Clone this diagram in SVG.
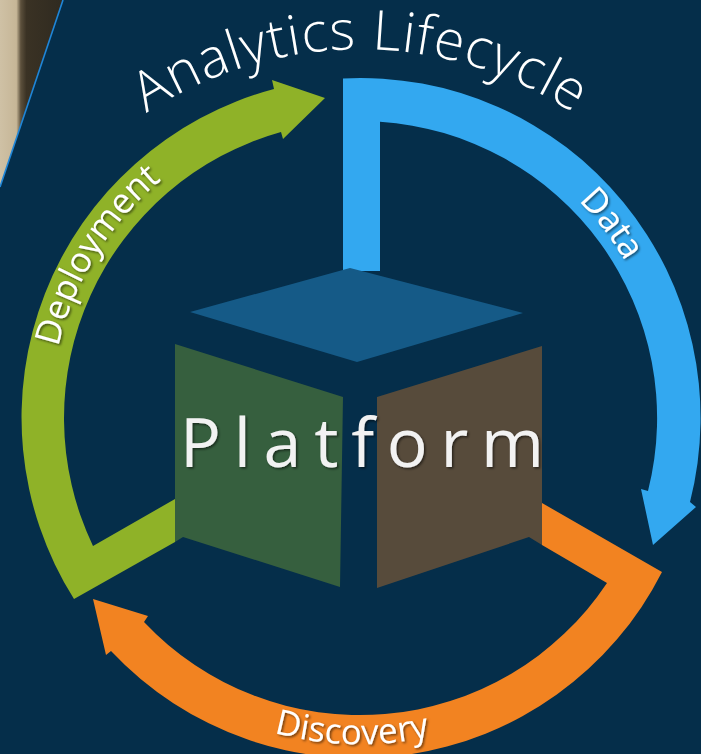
<svg xmlns="http://www.w3.org/2000/svg" width="701" height="754" viewBox="0 0 701 754">
  <defs>
    <style>
      .lbl { font-family: "Open Sans", "Liberation Sans", sans-serif; fill: #ffffff; }
      .stage { font-size: 35px; }
      .title { font-size: 55px; font-weight: 300; }
      .plat { font-size: 68px; fill: #f2f2f2; }
    </style>
    <linearGradient id="photo" x1="0" y1="0" x2="63" y2="0" gradientUnits="userSpaceOnUse">
      <stop offset="0" stop-color="#cfc1a5"/>
      <stop offset="0.26" stop-color="#c6b697"/>
      <stop offset="0.33" stop-color="#5c503c"/>
      <stop offset="0.42" stop-color="#3a3224"/>
      <stop offset="1" stop-color="#2f2a20"/>
    </linearGradient>
    <filter id="shadow" x="-10%" y="-30%" width="130%" height="170%">
      <feDropShadow dx="1.5" dy="1.5" stdDeviation="1.2" flood-color="#000000" flood-opacity="0.55"/>
    </filter>
    <path id="p-title" d="M 23,245 A 388,388 0 0 1 697,245" fill="none"/>
    <path id="p-deploy" d="M 54.7,471.8 A 310,310 0 0 1 271.4,120.9" fill="none"/>
    <path id="p-data" d="M 413.5,114.7 A 308,308 0 0 1 667,442.7" fill="none"/>
    <path id="p-disc" d="M 144,663 A 326,326 0 0 0 563,673" fill="none"/>
  </defs>

  <rect x="0" y="0" width="701" height="754" fill="#052e4a"/>
  <polygon points="0,0 63,0 0,187" fill="url(#photo)"/>
  <line x1="63" y1="0" x2="0" y2="187" stroke="#1f86d8" stroke-width="1.6"/>

  <g id="connectors">
    <path id="arrow-data" d="M343,271 L343,78.4 A340,340 0 0 1 690,502 L696,507 L653,545 L641,489 L648,491 A297,297 0 0 0 380,121.7 L380,271 Z" fill="#33a8f0"/>
    <path id="arrow-discovery" d="M542,503 L662,572 A340,340 0 0 1 111,651 L106,655 L93,599 L148,616 L144,622 A297,297 0 0 0 607,583 L542,545 Z" fill="#f28321"/>
    <path id="arrow-deployment" d="M175,499 L93,546 A297,297 0 0 1 281,132 L283,139 L325,98 L272,80 L274,89 A340,340 0 0 0 74,599 L175,542 Z" fill="#8fb228"/>
  </g>

  <g id="platform">
    <polygon points="190,312 350,268 523,313 357,362" fill="#155a87"/>
    <polygon points="175,344 343,397 340,587 183,537 175,542" fill="#365f3e"/>
    <polygon points="377,397 542,346 542,545 529,537 377,588" fill="#574b3b"/>
    <text class="lbl plat" x="180" y="467" textLength="364" lengthAdjust="spacing" filter="url(#shadow)">Platform</text>
  </g>

  <g id="title">
    <text class="lbl title"><textPath href="#p-title" startOffset="50%" text-anchor="middle" textLength="452" lengthAdjust="spacing">Analytics Lifecycle</textPath></text>
  </g>

  <g id="data">
    <text class="lbl stage" filter="url(#shadow)"><textPath href="#p-data" startOffset="50%" text-anchor="middle">Data</textPath></text>
  </g>

  <g id="discovery">
    <text class="lbl stage" filter="url(#shadow)"><textPath href="#p-disc" startOffset="50%" text-anchor="middle">Discovery</textPath></text>
  </g>

  <g id="deployment">
    <text class="lbl stage" filter="url(#shadow)"><textPath href="#p-deploy" startOffset="50%" text-anchor="middle">Deployment</textPath></text>
  </g>
</svg>
